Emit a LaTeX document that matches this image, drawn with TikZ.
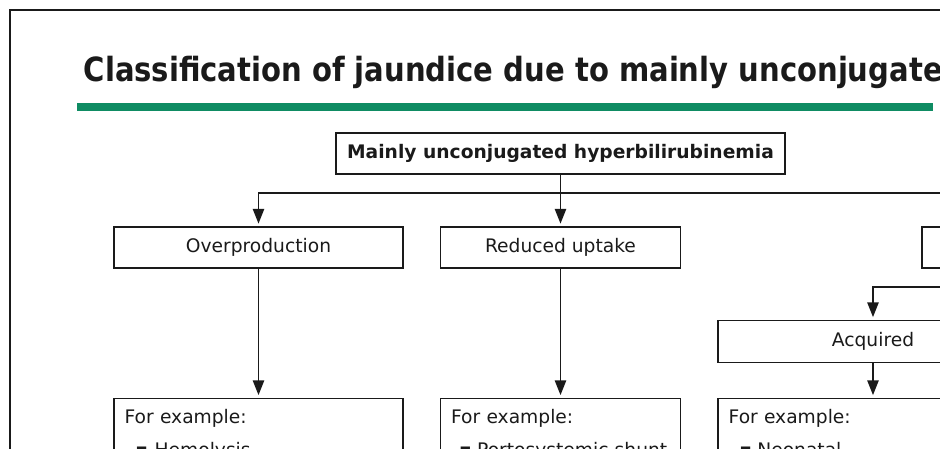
\documentclass[tikz,border=0pt]{standalone}
\usepackage{fontspec}
\setmainfont{DejaVu Sans}
\newfontfamily\titlefont[FakeStretch=0.872]{DejaVu Sans}
\usetikzlibrary{positioning,arrows.meta}
\definecolor{bargreen}{HTML}{0F8C63}
\definecolor{ink}{HTML}{1A1A1A}

\begin{document}
\begin{tikzpicture}[
		x=0.75pt, y=-0.75pt,			% 1 Einheit = 1 Pixel, y nach unten
		>={Triangle[width=8.5pt,length=11pt]},	% Pfeilspitzen
		line width=1.1pt,			% Linienstaerke
		font=\fontsize{14}{25}\selectfont,	% Schrift in den Kaesten
		box/.style={draw=ink, rectangle, minimum height=30.75pt, inner sep=0pt, text=ink},
		example/.style={draw=ink, rectangle, anchor=north, align=left, inner xsep=8pt, inner ysep=8pt, text=ink},
		arr/.style={->, draw=ink, shorten >=2pt}
	]
	
	% Rahmen und Ausschnitt
	\useasboundingbox (0,0) rectangle (940,449);
	\clip (0,0) rectangle (940,449);
	\draw[line width=1.5pt, draw=ink] (10,10) rectangle (1000,520);
	
	% Titel
	\node[anchor=base west, inner sep=0pt, font=\titlefont\bfseries\fontsize{25}{30}\selectfont, text=ink] (title) at (83,82) {Classification of jaundice due to mainly unconjugated hyperbilirubinemia};
	\fill[bargreen] (77,103) rectangle (933,111);
	
	% Knoten
	\node[box, minimum width=336.75pt, font=\bfseries\fontsize{14}{17}\selectfont] (top) at (560.5,153.5) {Mainly unconjugated hyperbilirubinemia};
	\node[box, minimum width=216.75pt] (over) at (258.5,247.5) {Overproduction};
	\node[box, minimum width=180pt] (uptake) at (560.5,247.5) {Reduced uptake};
	\node[box, minimum width=180pt] (conj) at (1042,247.5) {};
	\node[box, minimum width=232.5pt, minimum height=31.5pt] (acquired) at (873,341.5) {Acquired};
	
	\node[example, text width=200.75pt, below=96.75pt of over] (exover) {For example:\\\hspace*{8pt}▪\hspace{5pt}Hemolysis};
	\node[example, text width=164pt, below=96.75pt of uptake] (exuptake) {For example:\\\hspace*{6pt}▪\hspace{4pt}Portosystemic shunt};
	\node[example, text width=216.5pt, below=25.9pt of acquired] (exacquired) {For example:\\\hspace*{8pt}▪\hspace{4pt}Neonatal};
	
	% Freie Enden nach rechts
	\coordinate (splitA) at (960,193);
	\coordinate (splitB) at (960,287);
	
	% Pfeile
	\draw[arr] (top) -- (uptake);
	\draw[arr] (splitA) -| (over);
	\draw[arr] (over) -- (exover);
	\draw[arr] (uptake) -- (exuptake);
	\draw[arr] (splitB) -| (acquired);
	\draw[arr] (acquired) -- (exacquired);

\end{tikzpicture}
\end{document}
